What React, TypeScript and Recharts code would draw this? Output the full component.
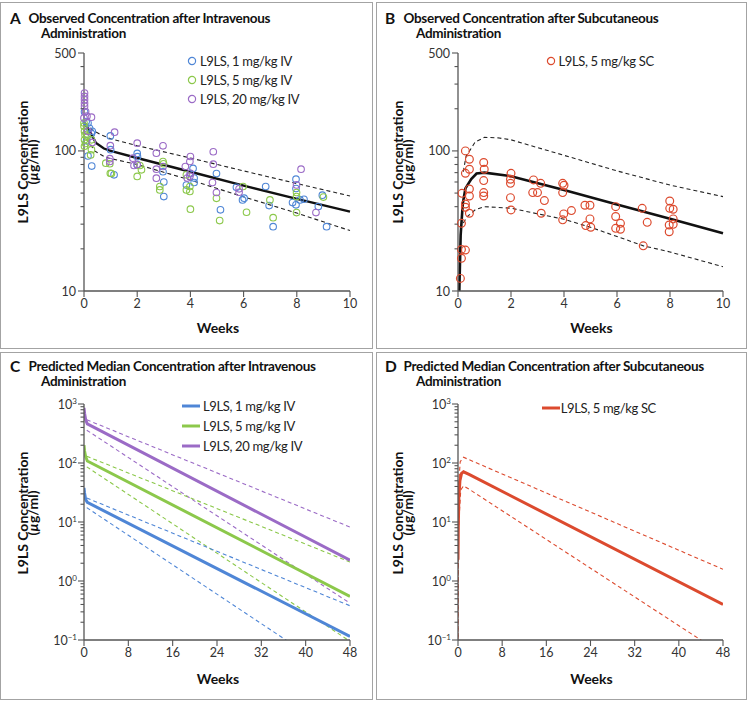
import React from 'react';
import { ComposedChart, Line, Scatter, XAxis, YAxis } from 'recharts';

type P = { x: number; y: number };
const pts = (arr: number[][]): P[] => arr.map(([x, y]) => ({ x, y }));

// ---------- tick values ----------
const weeksTicksObs = [0, 2, 4, 6, 8, 10];
const weeksTicksPred = [0, 8, 16, 24, 32, 40, 48];
const concTicksObs = [10, 20, 30, 40, 50, 60, 70, 80, 90, 100, 200, 300, 400, 500];
const concMajorObs = [10, 100, 500];
const concLabelsObs = ['10', '100', '500'];
const concTicksPred = [
  0.1, 0.2, 0.3, 0.4, 0.5, 0.6, 0.7, 0.8, 0.9,
  1, 2, 3, 4, 5, 6, 7, 8, 9,
  10, 20, 30, 40, 50, 60, 70, 80, 90,
  100, 200, 300, 400, 500, 600, 700, 800, 900, 1000,
];
const concMajorPred = [0.1, 1, 10, 100, 1000];
const concPredBase = ['10', '10', '10', '10', '10'];
const concPredExp = ['\u22121', '0', '1', '2', '3'];

// ---------- Panel A: observed IV ----------
const obsIV1 = pts([
  [0.02, 190], [0.08, 162], [0.1, 118], [0.15, 158], [0.21, 145], [0.31, 138], [0.28, 133], [0.15, 92], [0.29, 78],
  [0.99, 128], [1.0, 102], [1.13, 67.5], [2.0, 96], [2.01, 91], [2.0, 79.5], [2.97, 71], [3.0, 60], [3.0, 47.2],
  [3.85, 57], [4.0, 69], [4.1, 75], [4.14, 64], [4.14, 59.5], [4.98, 69], [5.13, 38], [5.73, 55], [5.96, 44.7],
  [6.02, 46], [6.83, 55.7], [6.96, 40.7], [7.11, 28.8], [7.84, 42.8], [7.97, 62.8], [7.97, 53.9], [7.97, 41.2],
  [8.12, 44.7], [8.27, 45.2], [8.81, 40.1], [8.96, 48.3], [9.12, 28.8],
]);
const obsIV5 = pts([
  [0.0, 158], [0.02, 138], [0.02, 120], [0.06, 113], [0.0, 150], [0.12, 127], [0.28, 120], [0.28, 102], [0.25, 93.6],
  [0.04, 130], [0.02, 108], [0.82, 81.8], [0.97, 81], [0.99, 69.3], [1.03, 69], [2.0, 65.7], [2.1, 78.7], [2.16, 73.3],
  [2.85, 55.7], [2.85, 52.7], [2.97, 84], [2.99, 81], [3.85, 67.5], [3.85, 52.7], [3.98, 55.7], [3.98, 51.3], [4.0, 38.4],
  [4.98, 45.9], [5.1, 31.8], [5.98, 55.7], [6.11, 36.5], [6.99, 44.7], [7.11, 33.4], [7.99, 50.5], [7.99, 47.2],
  [7.99, 36.3], [9.0, 46.8],
]);
const obsIV20 = pts([
  [0.02, 259], [0.02, 245], [0.02, 232], [0.02, 219], [0.02, 208], [0.06, 191], [0.0, 172], [0.11, 177], [0.28, 174],
  [0.15, 138], [0.31, 115], [1.15, 136], [0.99, 109], [0.97, 88], [0.97, 84], [2.0, 113.6], [1.84, 88.8], [1.88, 78.7],
  [2.0, 80], [2.97, 108.7], [2.72, 96.4], [2.72, 74.1], [2.72, 63.9], [2.97, 77.4], [3.81, 77.4], [4.0, 91.2],
  [3.98, 84], [4.0, 69.3], [3.98, 66], [3.88, 64], [4.86, 98.6], [4.86, 80.4], [4.83, 59.4], [4.98, 50.5],
  [5.83, 53.6], [5.83, 50.7], [7.99, 57.2], [8.16, 74.1], [8.72, 36.3],
]);
const ivMedian = pts([[0, 160], [0.2, 140], [0.45, 114], [0.75, 104], [1, 100], [2, 89], [4, 71], [6, 56.5], [8, 45.5], [10, 36.9]]);
const ivUpper = pts([[0.05, 158], [0.3, 142], [0.65, 130], [1, 122], [2, 109], [4, 89], [6, 72], [8, 58.5], [10, 47.7]]);
const ivLower = pts([[0.1, 122], [0.4, 100], [0.8, 90], [2, 80], [4, 62], [6, 47], [8, 36], [10, 27]]);

// ---------- Panel B: observed SC ----------
const obsSC5 = pts([
  [0.09, 12.3], [0.13, 17.1], [0.13, 19.8], [0.28, 19.6], [0.13, 30.4], [0.15, 49.8], [0.28, 41.8], [0.28, 39.6],
  [0.28, 69.2], [0.28, 100], [0.43, 87.2], [0.43, 74], [0.43, 53.5], [0.43, 47.7], [0.43, 35.9],
  [0.97, 82.6], [0.99, 74], [0.97, 61.4], [0.97, 50.4], [0.97, 47.7],
  [2.0, 69.2], [1.98, 62.8], [1.98, 58.7], [1.98, 46.4], [2.0, 37.9],
  [2.85, 62.1], [2.82, 50.4], [3.0, 50.4], [3.12, 58.7], [3.14, 35.9], [3.26, 44.2],
  [3.95, 58.7], [4.0, 56.9], [3.95, 50.4], [3.99, 35.5], [3.95, 32.2], [4.28, 37.5],
  [4.79, 40.9], [4.98, 40.9], [4.82, 29.3], [4.98, 32.7], [5.01, 28.5],
  [5.95, 40], [5.95, 34], [5.95, 28], [6.13, 30.4], [6.13, 27.6],
  [6.95, 38.9], [7.14, 30.9], [6.99, 21],
  [7.99, 43.9], [7.99, 38.9], [8.12, 38.3], [8.12, 32.7], [7.97, 29.6], [8.12, 29.9], [7.97, 26.5],
]);
const scMedian = pts([[0.05, 10], [0.1, 25], [0.18, 42], [0.28, 54], [0.5, 63], [0.7, 69], [1.0, 70], [2.0, 66], [4, 52.5], [6, 41.5], [8, 32.8], [10, 25.8]]);
const scUpper = pts([[0.2, 71], [0.3, 91], [0.65, 116], [1, 125], [1.5, 124], [2, 120], [4, 93], [6, 72], [8, 57], [10, 47.2]]);
const scLower = pts([[0.2, 30.6], [0.35, 34], [0.65, 38], [1.0, 40], [2, 39], [4, 32.5], [5, 28.5], [6, 24.5], [7, 21], [8, 19], [10, 14.9]]);

// ---------- Panel C: predicted IV ----------
const predIV20Med = pts([[0, 860], [0.1, 700], [0.3, 540], [0.6, 460], [48, 2.25]]);
const predIV20Up = pts([[0.5, 540], [48, 8.2]]);
const predIV20Lo = pts([[0.5, 360], [48, 0.42]]);
const predIV5Med = pts([[0, 200], [0.1, 160], [0.3, 128], [0.6, 108], [48, 0.55]]);
const predIV5Up = pts([[0.5, 130], [48, 2.1]]);
const predIV5Lo = pts([[0.5, 86], [48, 0.095]]);
const predIV1Med = pts([[0, 38], [0.1, 31], [0.3, 24], [0.6, 21.5], [48, 0.115]]);
const predIV1Up = pts([[0.5, 25.5], [48, 0.38]]);
const predIV1Lo = pts([[0.5, 17.5], [48, 0.019]]);

// ---------- Panel D: predicted SC ----------
const predSCMed = pts([[0, 2.3], [0.05, 8], [0.15, 25], [0.35, 50], [0.65, 67], [1.0, 71], [2, 64], [48, 0.4]]);
const predSCUp = pts([[0, 0.08], [0.1, 40], [0.4, 105], [1.0, 125], [2, 114], [48, 1.58]]);
const predSCLo = pts([[0, 0.05], [0.1, 8], [0.5, 35], [1.0, 41], [2, 36], [48, 0.057]]);

// ---------- styles ----------
const FONT = 'Lato, "Open Sans", "Noto Sans", sans-serif';
const BLUE = '#4f86d6';
const GREEN = '#8cc84b';
const PURPLE = '#9b6bc6';
const RED = '#dc4a2e';
const AXIS = '#555';
const W = 373;
const H = 348;

function YTickObs(props: any) {
  const { x, y, payload } = props;
  const idx = concMajorObs.indexOf(payload.value);
  const major = idx >= 0;
  return (
    <g>
      <line x1={x - (major ? 6 : 3.5)} x2={x} y1={y} y2={y} stroke={AXIS} strokeWidth={1.1} />
      {major && (
        <text x={x - 8} y={y} dy="0.36em" textAnchor="end" fontSize={12.5} fill="#333" fontFamily={FONT}>
          {concLabelsObs[idx]}
        </text>
      )}
    </g>
  );
}

function YTickPred(props: any) {
  const { x, y, payload } = props;
  const idx = concMajorPred.indexOf(payload.value);
  const major = idx >= 0;
  return (
    <g>
      <line x1={x - (major ? 6 : 3.5)} x2={x} y1={y} y2={y} stroke={AXIS} strokeWidth={1.1} />
      {major && (
        <text x={x - 7} y={y} dy="0.36em" textAnchor="end" fontSize={12.5} fill="#333" fontFamily={FONT}>
          {concPredBase[idx]}
          <tspan fontSize={8} dy={-5}>{concPredExp[idx]}</tspan>
        </text>
      )}
    </g>
  );
}

const circleShape = (color: string, r: number, sw: number) => (props: any) =>
  <circle cx={props.cx} cy={props.cy} r={r} fill="none" stroke={color} strokeWidth={sw} />;

function PanelFrame({ left, top, width, height }: any) {
  return (
    <div style={{ position: 'absolute', left, top, width, height, boxSizing: 'border-box', border: '1.5px solid #a3a3a3' }} />
  );
}

function Titles({ left, top, letter, line1, line2, y1 }: any) {
  const base: React.CSSProperties = { position: 'absolute', whiteSpace: 'nowrap', fontFamily: FONT, fontWeight: 700, color: '#111', lineHeight: '18px' };
  return (
    <>
      <div style={{ ...base, left: left + 10, top: top + y1 - 9, fontSize: 15.5 }}>{letter}</div>
      <div style={{ ...base, left: left + 28.5, top: top + y1 - 9, fontSize: 13.5, letterSpacing: -0.3 }}>{line1}</div>
      <div style={{ ...base, left: left + 41, top: top + y1 + 6, fontSize: 13.5, letterSpacing: -0.3 }}>{line2}</div>
    </>
  );
}

function RotLabel({ cx, cy, children }: any) {
  return (
    <div
      style={{
        position: 'absolute', left: cx, top: cy, whiteSpace: 'nowrap', fontFamily: FONT, fontWeight: 700,
        color: '#111', fontSize: 14, lineHeight: '18px', transformOrigin: '0 0',
        transform: 'rotate(-90deg) translate(-50%, -50%)',
      }}
    >
      {children}
    </div>
  );
}

function AxisTitles({ left, top, cxWeeks }: any) {
  const base: React.CSSProperties = { position: 'absolute', whiteSpace: 'nowrap', fontFamily: FONT, fontWeight: 700, color: '#111', fontSize: 14, lineHeight: '18px' };
  return (
    <>
      <div style={{ ...base, left: left + cxWeeks, top: top + 328, transform: 'translate(-50%, -50%)' }}>Weeks</div>
      <RotLabel cx={left + 22.5} cy={top + 162}>L9LS Concentration</RotLabel>
      <RotLabel cx={left + 33} cy={top + 162}>
        (<span style={{ fontStyle: 'italic' }}>µ</span>g/ml)
      </RotLabel>
    </>
  );
}

function LegendRow({ x, y, color, kind, textX, label }: any) {
  return (
    <>
      {kind === 'circle' ? (
        <svg style={{ position: 'absolute', left: x - 5, top: y - 5 }} width={10} height={10}>
          <circle cx={5} cy={5} r={3.6} fill="none" stroke={color} strokeWidth={1.2} />
        </svg>
      ) : (
        <svg style={{ position: 'absolute', left: x, top: y - 3 }} width={18} height={6}>
          <line x1={0} x2={18} y1={3} y2={3} stroke={color} strokeWidth={3} />
        </svg>
      )}
      <div style={{ position: 'absolute', left: textX, top: y - 9, lineHeight: '18px', fontSize: 13, letterSpacing: -0.35, fontFamily: FONT, color: '#222', whiteSpace: 'nowrap' }}>
        {label}
      </div>
    </>
  );
}

const xAxisCommon = {
  type: 'number' as const,
  dataKey: 'x',
  tickSize: 6,
  tickMargin: 2,
  interval: 0 as const,
  height: 30,
  tick: { fontSize: 12.5, fill: '#333', fontFamily: FONT },
  axisLine: { stroke: AXIS, strokeWidth: 1.3 },
  tickLine: { stroke: AXIS, strokeWidth: 1.1 },
};

function ObsChart({ children, marginLeft, marginRight }: any) {
  return (
    <ComposedChart width={W} height={H} margin={{ top: 53, right: marginRight, bottom: 27, left: marginLeft }}>
      <XAxis {...xAxisCommon} domain={[0, 10]} ticks={weeksTicksObs} />
      <YAxis
        type="number"
        dataKey="y"
        scale="log"
        domain={[10, 500]}
        ticks={concTicksObs}
        interval={0}
        width={60}
        tickSize={0}
        tickMargin={0}
        tickLine={false}
        axisLine={{ stroke: AXIS, strokeWidth: 1.3 }}
        tick={(p: any) => <YTickObs {...p} />}
      />
      {children}
    </ComposedChart>
  );
}

function PredChart({ children, marginLeft, marginRight }: any) {
  return (
    <ComposedChart width={W} height={H} margin={{ top: 53, right: marginRight, bottom: 29, left: marginLeft }}>
      <XAxis {...xAxisCommon} domain={[0, 48]} ticks={weeksTicksPred} allowDataOverflow />
      <YAxis
        type="number"
        dataKey="y"
        scale="log"
        domain={[0.1, 1000]}
        ticks={concTicksPred}
        interval={0}
        allowDataOverflow
        width={60}
        tickSize={0}
        tickMargin={0}
        tickLine={false}
        axisLine={{ stroke: AXIS, strokeWidth: 1.3 }}
        tick={(p: any) => <YTickPred {...p} />}
      />
      {children}
    </ComposedChart>
  );
}

const medLine = (data: P[], color: string, width: number, key: string) => (
  <Line key={key} data={data} dataKey="y" type="linear" stroke={color} strokeWidth={width} dot={false} activeDot={false} isAnimationActive={false} />
);
const dashLine = (data: P[], color: string, key: string) => (
  <Line key={key} data={data} dataKey="y" type="linear" stroke={color} strokeWidth={1.1} strokeDasharray="4 3" dot={false} activeDot={false} isAnimationActive={false} />
);

export default function App() {
  return (
    <div style={{ position: 'absolute', left: 0, top: 0, width: 750, height: 702, background: '#fff', overflow: 'hidden' }}>
      <PanelFrame left={0} top={2} width={373} height={347} />
      <PanelFrame left={376} top={2} width={371} height={347} />
      <PanelFrame left={0} top={352} width={373} height={348} />
      <PanelFrame left={376} top={352} width={371} height={348} />

      {/* Panel A */}
      <div style={{ position: 'absolute', left: 0, top: 0 }}>
        <ObsChart marginLeft={24} marginRight={23}>
          {dashLine(ivUpper, '#222', 'au')}
          {dashLine(ivLower, '#222', 'al')}
          <Scatter data={obsIV1} dataKey="y" isAnimationActive={false} shape={circleShape(BLUE, 3.3, 1.1)} />
          <Scatter data={obsIV5} dataKey="y" isAnimationActive={false} shape={circleShape(GREEN, 3.3, 1.1)} />
          <Scatter data={obsIV20} dataKey="y" isAnimationActive={false} shape={circleShape(PURPLE, 3.3, 1.1)} />
          {medLine(ivMedian, '#111', 2.4, 'am')}
        </ObsChart>
      </div>
      <Titles left={0} top={0} y1={18} letter="A" line1="Observed Concentration after Intravenous" line2="Administration" />
      <AxisTitles left={0} top={0} cxWeeks={218} />
      <LegendRow x={191.7} y={61} textX={200} kind="circle" color={BLUE} label="L9LS, 1 mg/kg IV" />
      <LegendRow x={191.7} y={80.3} textX={200} kind="circle" color={GREEN} label="L9LS, 5 mg/kg IV" />
      <LegendRow x={191.7} y={99.3} textX={200} kind="circle" color={PURPLE} label="L9LS, 20 mg/kg IV" />

      {/* Panel B */}
      <div style={{ position: 'absolute', left: 375, top: 0 }}>
        <ObsChart marginLeft={23} marginRight={25}>
          {dashLine(scUpper, '#222', 'bu')}
          {dashLine(scLower, '#222', 'bl')}
          <Scatter data={obsSC5} dataKey="y" isAnimationActive={false} shape={circleShape(RED, 3.9, 1.2)} />
          {medLine(scMedian, '#111', 2.6, 'bm')}
        </ObsChart>
      </div>
      <Titles left={375} top={0} y1={18} letter="B" line1="Observed Concentration after Subcutaneous" line2="Administration" />
      <AxisTitles left={375} top={0} cxWeeks={216.5} />
      <LegendRow x={551} y={61} textX={558.5} kind="circle" color={RED} label="L9LS, 5 mg/kg SC" />

      {/* Panel C */}
      <div style={{ position: 'absolute', left: 0, top: 351 }}>
        <PredChart marginLeft={24} marginRight={23}>
          {dashLine(predIV20Up, PURPLE, 'c1')}
          {dashLine(predIV20Lo, PURPLE, 'c2')}
          {dashLine(predIV5Up, GREEN, 'c3')}
          {dashLine(predIV5Lo, GREEN, 'c4')}
          {dashLine(predIV1Up, BLUE, 'c5')}
          {dashLine(predIV1Lo, BLUE, 'c6')}
          {medLine(predIV20Med, PURPLE, 3, 'c7')}
          {medLine(predIV5Med, GREEN, 3, 'c8')}
          {medLine(predIV1Med, BLUE, 3, 'c9')}
        </PredChart>
      </div>
      <Titles left={0} top={351} y1={15} letter="C" line1="Predicted Median Concentration after Intravenous" line2="Administration" />
      <AxisTitles left={0} top={351} cxWeeks={218} />
      <LegendRow x={181.7} y={406} textX={203} kind="line" color={BLUE} label="L9LS, 1 mg/kg IV" />
      <LegendRow x={181.7} y={426} textX={203} kind="line" color={GREEN} label="L9LS, 5 mg/kg IV" />
      <LegendRow x={181.7} y={446} textX={203} kind="line" color={PURPLE} label="L9LS, 20 mg/kg IV" />

      {/* Panel D */}
      <div style={{ position: 'absolute', left: 375, top: 351 }}>
        <PredChart marginLeft={23} marginRight={25}>
          {dashLine(predSCUp, RED, 'd1')}
          {dashLine(predSCLo, RED, 'd2')}
          {medLine(predSCMed, RED, 3, 'd3')}
        </PredChart>
      </div>
      <Titles left={375} top={351} y1={15} letter="D" line1="Predicted Median Concentration after Subcutaneous" line2="Administration" />
      <AxisTitles left={375} top={351} cxWeeks={216.5} />
      <LegendRow x={541.7} y={408} textX={560.7} kind="line" color={RED} label="L9LS, 5 mg/kg SC" />
    </div>
  );
}
